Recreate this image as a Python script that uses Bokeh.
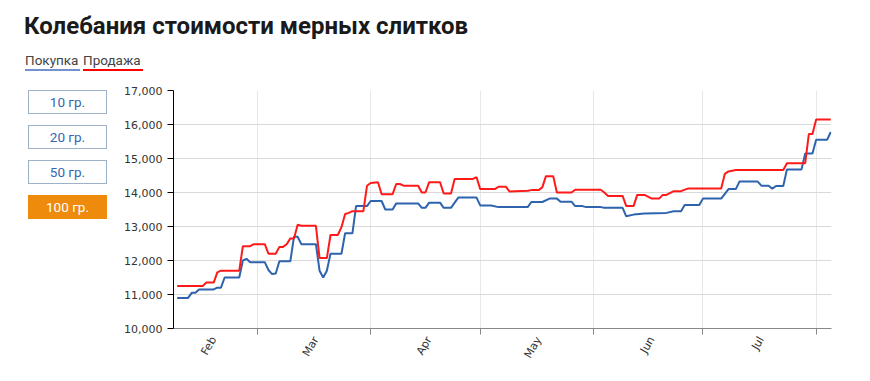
import math
import pandas as pd
from bokeh.plotting import figure
from bokeh.models import Div, FixedTicker, NumeralTickFormatter, Range1d
from bokeh.layouts import column, row
from bokeh.embed import file_html
from bokeh.resources import INLINE

# ---------------- data ----------------
title_text = "Колебания стоимости мерных слитков"
legend_labels = ["Покупка", "Продажа"]
weight_buttons = ["10 гр.", "20 гр.", "50 гр.", "100 гр."]
active_weight = "100 гр."

month_labels = ["Feb", "Mar", "Apr", "May", "Jun", "Jul"]
month_label_dates = ["2023-02-17", "2023-03-17", "2023-04-17", "2023-05-17", "2023-06-17", "2023-07-17"]
month_start_dates = ["2023-03-01", "2023-04-01", "2023-05-01", "2023-06-01", "2023-07-01", "2023-08-01"]
y_ticks = [10000, 11000, 12000, 13000, 14000, 15000, 16000, 17000]

buy_dates = [
    "2023-02-07", "2023-02-10", "2023-02-11", "2023-02-12", "2023-02-13", "2023-02-17", "2023-02-18",
    "2023-02-19", "2023-02-20", "2023-02-24", "2023-02-25", "2023-02-26", "2023-02-27", "2023-03-03",
    "2023-03-04", "2023-03-05", "2023-03-06", "2023-03-07", "2023-03-10", "2023-03-11", "2023-03-12",
    "2023-03-13", "2023-03-17", "2023-03-18", "2023-03-19", "2023-03-20", "2023-03-21", "2023-03-24",
    "2023-03-25", "2023-03-27", "2023-03-28", "2023-03-31", "2023-04-01", "2023-04-04", "2023-04-05",
    "2023-04-07", "2023-04-08", "2023-04-14", "2023-04-15", "2023-04-16", "2023-04-17", "2023-04-20",
    "2023-04-21", "2023-04-23", "2023-04-24", "2023-04-25", "2023-04-30", "2023-05-01", "2023-05-04",
    "2023-05-06", "2023-05-14", "2023-05-15", "2023-05-18", "2023-05-20", "2023-05-22", "2023-05-23",
    "2023-05-26", "2023-05-27", "2023-05-29", "2023-05-30", "2023-06-03", "2023-06-04", "2023-06-09",
    "2023-06-10", "2023-06-12", "2023-06-15", "2023-06-21", "2023-06-23", "2023-06-25", "2023-06-26",
    "2023-06-30", "2023-07-01", "2023-07-06", "2023-07-07", "2023-07-08", "2023-07-10", "2023-07-11",
    "2023-07-16", "2023-07-17", "2023-07-19", "2023-07-20", "2023-07-21", "2023-07-23", "2023-07-24",
    "2023-07-28", "2023-07-29", "2023-07-31", "2023-08-01", "2023-08-04", "2023-08-05",
]
buy_prices = [
    10900, 10900, 11050, 11050, 11150, 11150, 11200,
    11200, 11500, 11500, 12000, 12050, 11950, 11950,
    11720, 11600, 11620, 11980, 11980, 12700, 12700,
    12480, 12480, 11700, 11500, 11700, 12200, 12200,
    12800, 12800, 13600, 13600, 13750, 13750, 13500,
    13500, 13680, 13680, 13550, 13550, 13700, 13700,
    13550, 13550, 13700, 13850, 13850, 13620, 13620,
    13570, 13570, 13720, 13720, 13820, 13820, 13730,
    13730, 13600, 13600, 13570, 13570, 13550, 13550,
    13300, 13350, 13380, 13400, 13450, 13450, 13630,
    13630, 13820, 13820, 13960, 14100, 14100, 14320,
    14320, 14200, 14200, 14110, 14190, 14190, 14680,
    14680, 15150, 15150, 15550, 15550, 15780,
]

sell_dates = [
    "2023-02-07", "2023-02-14", "2023-02-15", "2023-02-17", "2023-02-18", "2023-02-19", "2023-02-24",
    "2023-02-25", "2023-02-27", "2023-02-28", "2023-03-03", "2023-03-04", "2023-03-06", "2023-03-07",
    "2023-03-08", "2023-03-09", "2023-03-10", "2023-03-11", "2023-03-12", "2023-03-13", "2023-03-17",
    "2023-03-18", "2023-03-20", "2023-03-21", "2023-03-23", "2023-03-24", "2023-03-25", "2023-03-26",
    "2023-03-27", "2023-03-30", "2023-03-31", "2023-04-01", "2023-04-03", "2023-04-04", "2023-04-07",
    "2023-04-08", "2023-04-09", "2023-04-10", "2023-04-14", "2023-04-15", "2023-04-16", "2023-04-17",
    "2023-04-20", "2023-04-21", "2023-04-23", "2023-04-24", "2023-04-29", "2023-04-30", "2023-05-01",
    "2023-05-05", "2023-05-06", "2023-05-08", "2023-05-09", "2023-05-14", "2023-05-15", "2023-05-17",
    "2023-05-18", "2023-05-19", "2023-05-21", "2023-05-22", "2023-05-26", "2023-05-27", "2023-06-03",
    "2023-06-04", "2023-06-05", "2023-06-09", "2023-06-10", "2023-06-12", "2023-06-13", "2023-06-15",
    "2023-06-17", "2023-06-19", "2023-06-20", "2023-06-21", "2023-06-23", "2023-06-25", "2023-06-27",
    "2023-07-06", "2023-07-07", "2023-07-08", "2023-07-10", "2023-07-23", "2023-07-24", "2023-07-29",
    "2023-07-30", "2023-07-31", "2023-08-01", "2023-08-05",
]
sell_prices = [
    11250, 11250, 11350, 11350, 11650, 11700, 11700,
    12420, 12420, 12480, 12480, 12200, 12200, 12400,
    12400, 12480, 12650, 12650, 13050, 13020, 13020,
    12070, 12070, 12750, 12750, 12980, 13370, 13400,
    13450, 13450, 14200, 14280, 14300, 13950, 13950,
    14250, 14250, 14200, 14200, 14000, 14000, 14300,
    14300, 13970, 13970, 14400, 14400, 14450, 14100,
    14100, 14170, 14170, 14030, 14050, 14070, 14070,
    14150, 14480, 14480, 14000, 14000, 14080, 14080,
    14000, 13900, 13900, 13600, 13600, 13930, 13930,
    13820, 13820, 13930, 13930, 14040, 14040, 14120,
    14120, 14550, 14620, 14660, 14660, 14860, 14860,
    15720, 15720, 16150, 16150,
]

x_start = "2023-02-06"
x_end = "2023-08-05 05:00"

# ---------------- figure ----------------
def ms(d):
    return int(pd.Timestamp(d).value // 10**6)

p = figure(
    width=760, height=299,
    x_axis_type="datetime",
    x_range=Range1d(pd.Timestamp(x_start), pd.Timestamp(x_end)),
    y_range=Range1d(10000, 17000),
    output_backend="svg", toolbar_location=None,
    min_border_left=63, min_border_right=39, min_border_top=10, min_border_bottom=51,
)
p.outline_line_color = None
p.background_fill_color = "white"
p.border_fill_color = "white"

p.line(pd.to_datetime(buy_dates), buy_prices, line_color="#2e63ad", line_width=2)
p.line(pd.to_datetime(sell_dates), sell_prices, line_color="#ff1a1a", line_width=2)

# y axis
yax = p.yaxis[0]
yax.ticker = FixedTicker(ticks=y_ticks)
yax.formatter = NumeralTickFormatter(format="0,0")
yax.axis_line_color = "black"
yax.major_tick_line_color = "black"
yax.major_tick_out = 6
yax.major_tick_in = 0
yax.minor_tick_line_color = None
yax.major_label_text_font = "DejaVu Sans"
yax.major_label_text_font_size = "11px"
yax.major_label_text_color = "#333333"
yax.major_label_standoff = 5

# x axis
xax = p.xaxis[0]
xax.ticker = FixedTicker(ticks=[ms(d) for d in month_label_dates],
                         minor_ticks=[ms(d) for d in month_start_dates])
xax.major_label_overrides = {ms(d): lab for d, lab in zip(month_label_dates, month_labels)}
xax.axis_line_color = "#888888"
xax.major_tick_in = 0
xax.major_tick_out = 0
xax.minor_tick_in = 0
xax.minor_tick_out = 6
xax.minor_tick_line_color = "#888888"
xax.major_label_orientation = math.pi / 3
xax.major_label_text_font = "DejaVu Sans"
xax.major_label_text_font_size = "11px"
xax.major_label_text_color = "#333333"
xax.major_label_standoff = 3

p.xgrid.ticker = FixedTicker(ticks=[ms(d) for d in month_start_dates])
p.xgrid.grid_line_color = "#e8e8e8"
p.ygrid.grid_line_color = "#d9d9d9"

# ---------------- html parts ----------------
header_html = f"""
<div style="position:relative;width:870px;height:80px;font-family:Roboto;">
  <div style="position:absolute;left:24px;top:14px;font-size:24px;line-height:24px;font-weight:bold;color:#1a1a1a;white-space:nowrap;">{title_text}</div>
  <div style="position:absolute;left:25px;top:54px;font-size:13.5px;line-height:13px;color:#444444;white-space:nowrap;">{legend_labels[0]}</div>
  <div style="position:absolute;left:25px;top:69px;width:55px;height:2px;background:#7391cc;"></div>
  <div style="position:absolute;left:83px;top:54px;font-size:13.5px;line-height:13px;color:#444444;white-space:nowrap;">{legend_labels[1]}</div>
  <div style="position:absolute;left:83px;top:69px;width:60px;height:2px;background:#ff0000;"></div>
</div>
"""
header = Div(text=header_html, width=870, height=80, margin=0)

btn_parts = []
for i, lab in enumerate(weight_buttons):
    top = 10 + 35 * i
    if lab == active_weight:
        style = "background:#ee8a0c;color:#ffffff;border:1px solid #ee8a0c;"
    else:
        style = "background:#ffffff;color:#3567b0;border:1px solid #9db2c6;"
    btn_parts.append(
        f'<div style="position:absolute;left:28px;top:{top}px;width:79px;height:24px;box-sizing:border-box;'
        f'{style}font-family:Roboto;font-size:13.5px;line-height:22px;text-align:center;">{lab}</div>'
    )
buttons = Div(text='<div style="position:relative;width:110px;height:299px;">' + "".join(btn_parts) + "</div>",
              width=110, height=299, margin=0)

footer = Div(text='<div style="position:relative;width:870px;height:2px;">'
                  '<div style="position:absolute;left:173px;top:0px;width:658px;height:2px;background:#f0f0f0;"></div></div>',
             width=870, height=2, margin=0)

layout = column(header, row(buttons, p, spacing=0), footer, spacing=0)

open("out.html", "w").write(file_html(layout, INLINE))
